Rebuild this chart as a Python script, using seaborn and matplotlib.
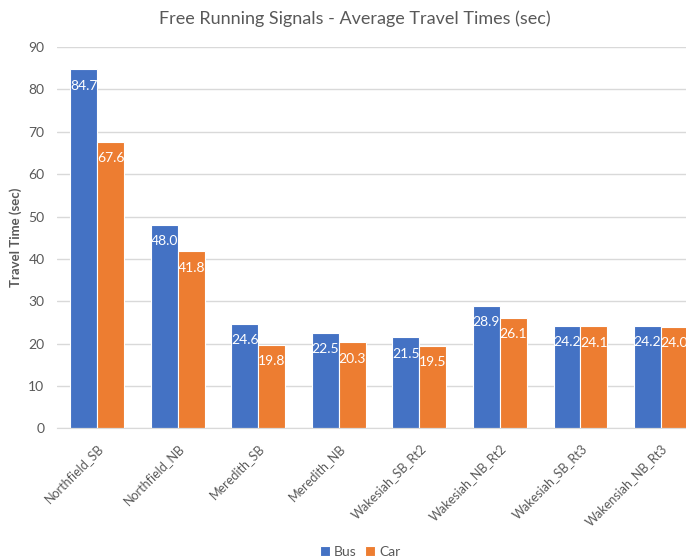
import pandas as pd
import matplotlib
matplotlib.use("Agg")
import matplotlib.pyplot as plt
import seaborn as sns

# Data
sites = ["Northfield_SB", "Northfield_NB", "Meredith_SB", "Meredith_NB",
         "Wakesiah_SB_Rt2", "Wakesiah_NB_Rt2", "Wakesiah_SB_Rt3", "Wakensiah_NB_Rt3"]
bus_times = [84.7, 48.0, 24.6, 22.5, 21.5, 28.9, 24.2, 24.2]
car_times = [67.6, 41.8, 19.8, 20.3, 19.5, 26.1, 24.1, 24.0]
modes = ["Bus", "Car"]
y_ticks = [0, 10, 20, 30, 40, 50, 60, 70, 80, 90]

df = pd.DataFrame({
    "site": sites * 2,
    "mode": ["Bus"] * len(sites) + ["Car"] * len(sites),
    "time": bus_times + car_times,
})

sns.set_style("white")
plt.rcParams["font.family"] = ["Lato", "DejaVu Sans"]
grey = "#595959"

fig = plt.figure(figsize=(6.86, 5.6), dpi=100)
ax = fig.add_axes([0.083, 0.235, 0.917, 0.681])

sns.barplot(data=df, x="site", y="time", hue="mode", hue_order=modes,
            palette=["#4472C4", "#ED7D31"], width=0.67, saturation=1,
            edgecolor="white", linewidth=0.8, ax=ax, legend=True)

# value labels inside the top of each bar
for cont in ax.containers:
    ax.bar_label(cont, fmt="%.1f", padding=-16, color="white", fontsize=10)

ax.set_ylim(0, 90)
ax.set_xlim(-0.5, 7.31)
ax.set_yticks(y_ticks)
ax.yaxis.grid(True, color="#D9D9D9", linewidth=1)
ax.set_axisbelow(True)
for s in ["top", "right", "left"]:
    ax.spines[s].set_visible(False)
ax.spines["bottom"].set_color("#D9D9D9")
ax.tick_params(axis="y", colors=grey, labelsize=10, length=0, pad=9)
ax.tick_params(axis="x", colors=grey, labelsize=9, length=0, pad=10)
plt.setp(ax.get_xticklabels(), rotation=45, ha="right", rotation_mode="anchor")

ax.set_xlabel("")
ax.set_ylabel("Travel Time (sec)", color=grey, fontsize=9.5, fontweight="bold")
ax.yaxis.set_label_coords(-0.056, 0.5)

fig.text(0.517, 0.967, "Free Running Signals - Average Travel Times (sec)",
         ha="center", va="center", color=grey, fontsize=13)

ax.legend_.remove()
handles, labels = ax.get_legend_handles_labels()
fig.legend(handles[:2], labels[:2], loc="center", bbox_to_anchor=(0.525, 0.015),
           ncol=2, frameon=False, fontsize=10, labelcolor=grey,
           handlelength=0.7, handleheight=0.7, handletextpad=0.3, columnspacing=0.6)

fig.savefig("out.png", dpi=100)
